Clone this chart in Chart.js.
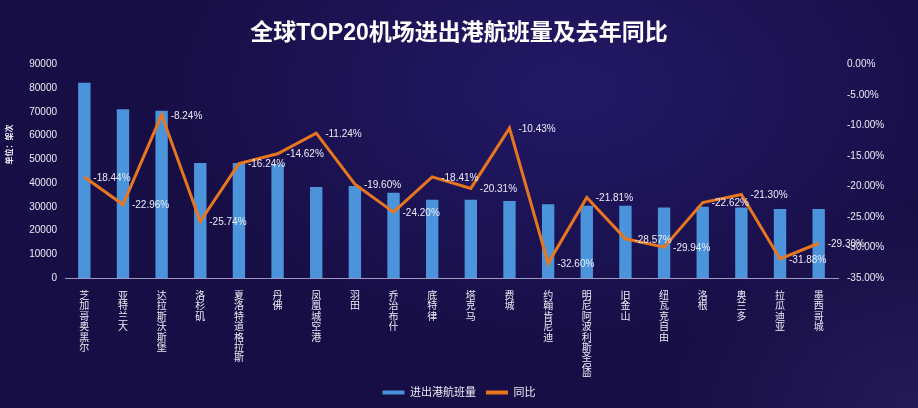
<!DOCTYPE html>
<html lang="zh">
<head>
  <meta charset="UTF-8" />
  <title>全球TOP20机场进出港航班量及去年同比</title>
  <script src="https://cdn.jsdelivr.net/npm/chart.js"></script>
  <style>
    html, body {
      margin: 0;
      width: 918px;
      height: 408px;
      overflow: hidden;
    }

    body {
      background:
        radial-gradient(ellipse 420px 260px at 62% 22%, rgba(44, 34, 130, 0.55), rgba(44, 34, 130, 0) 100%),
        radial-gradient(ellipse 260px 200px at 100% 100%, rgba(60, 52, 120, 0.35), rgba(60, 52, 120, 0) 100%),
        #170e45;
    }

    #wrap {
      position: relative;
      width: 918px;
      height: 408px;
    }
  </style>
</head>
<body>

<div id="wrap">
  <canvas id="airportChart"></canvas>
</div>

<script>
  const airports = [
    "芝加哥奥黑尔", "亚特兰大", "达拉斯沃斯堡", "洛杉矶", "夏洛特道格拉斯",
    "丹佛", "凤凰城空港", "羽田", "乔治布什", "底特律",
    "塔克马", "费城", "约翰肯尼迪", "明尼阿波利斯圣保罗", "旧金山",
    "纽瓦克自由", "洛根", "奥兰多", "拉瓜迪亚", "墨西哥城"
  ];
  const flights = [
    82300, 71200, 70500, 48500, 48500,
    48000, 38400, 38800, 36000, 33000,
    33000, 32500, 31100, 30500, 30500,
    29700, 30100, 29700, 29100, 29100
  ];
  const yoy = [
    -18.44, -22.96, -8.24, -25.74, -16.24,
    -14.62, -11.24, -19.60, -24.20, -18.41,
    -20.31, -10.43, -32.60, -21.81, -28.57,
    -29.94, -22.62, -21.30, -31.88, -29.30
  ];
  const flightTicks = [0, 10000, 20000, 30000, 40000, 50000, 60000, 70000, 80000, 90000];
  const yoyTicks = [-35, -30, -25, -20, -15, -10, -5, 0];

  const FONT = '"Liberation Sans", "Noto Sans CJK SC", sans-serif';
  const TEXT = "#ecebf5";

  // value labels next to the line points, plus the unit label on the left
  const extrasPlugin = {
    id: "extras",
    afterDatasetsDraw(chart) {
      const ctx = chart.ctx;
      const meta = chart.getDatasetMeta(1);
      ctx.save();
      ctx.font = "10px " + FONT;
      ctx.fillStyle = TEXT;
      ctx.textAlign = "left";
      ctx.textBaseline = "middle";
      meta.data.forEach((pt, i) => {
        ctx.fillText(yoy[i].toFixed(2) + "%", pt.x + 9, pt.y + 1);
      });
      ctx.restore();

      ctx.save();
      ctx.translate(10, chart.chartArea.top + 80);
      ctx.rotate(-Math.PI / 2);
      ctx.font = "bold 8px " + FONT;
      ctx.fillStyle = TEXT;
      ctx.textAlign = "center";
      ctx.textBaseline = "middle";
      ctx.fillText("单位：架次", 0, 0);
      ctx.restore();
    }
  };

  new Chart(document.getElementById("airportChart"), {
    data: {
      labels: airports.map(name => name.split("")),
      datasets: [{
        type: "bar",
        label: "进出港航班量",
        data: flights,
        yAxisID: "y",
        backgroundColor: "#4b94dc",
        barPercentage: 0.32,
        categoryPercentage: 1,
        order: 2
      }, {
        type: "line",
        label: "同比",
        data: yoy,
        yAxisID: "y1",
        borderColor: "#e8761f",
        backgroundColor: "#e8761f",
        borderWidth: 3,
        pointRadius: 0,
        tension: 0,
        order: 1
      }]
    },
    options: {
      responsive: true,
      maintainAspectRatio: false,
      animation: false,
      layout: {
        padding: { left: 0, right: 0, top: 0, bottom: 0 }
      },
      plugins: {
        title: {
          display: true,
          text: "全球TOP20机场进出港航班量及去年同比",
          color: "#ffffff",
          font: { family: FONT, size: 23, weight: "bold" },
          padding: { top: 20, bottom: 17 }
        },
        legend: {
          position: "bottom",
          labels: {
            color: TEXT,
            font: { family: FONT, size: 11 },
            boxWidth: 22,
            boxHeight: 4,
            padding: 10,
            sort: (a, b) => a.datasetIndex - b.datasetIndex,
            generateLabels(chart) {
              const items = Chart.defaults.plugins.legend.labels.generateLabels(chart);
              items.forEach(it => { it.lineWidth = 0; });
              return items;
            }
          }
        },
        tooltip: { enabled: false }
      },
      scales: {
        x: {
          grid: { display: false },
          border: { display: true, color: "#9c97c4", width: 1 },
          ticks: {
            color: TEXT,
            font: { family: FONT, size: 10, lineHeight: 1.04 },
            maxRotation: 0,
            autoSkip: false,
            padding: 5
          },
          afterFit(scale) { scale.height = 99; }
        },
        y: {
          position: "left",
          min: 0,
          max: 90000,
          grid: { display: false, drawTicks: false },
          border: { display: false },
          afterBuildTicks(scale) { scale.ticks = flightTicks.map(v => ({ value: v })); },
          ticks: {
            color: TEXT,
            font: { family: FONT, size: 10 },
            padding: 8,
            callback: v => String(v)
          },
          afterFit(scale) { scale.width = 65; }
        },
        y1: {
          position: "right",
          min: -35,
          max: 0,
          grid: { display: false, drawTicks: false },
          border: { display: false },
          afterBuildTicks(scale) { scale.ticks = yoyTicks.map(v => ({ value: v })); },
          ticks: {
            color: TEXT,
            font: { family: FONT, size: 10 },
            padding: 9,
            callback: v => v.toFixed(2) + "%"
          },
          afterFit(scale) { scale.width = 80; }
        }
      }
    },
    plugins: [extrasPlugin]
  });
</script>

</body>
</html>
